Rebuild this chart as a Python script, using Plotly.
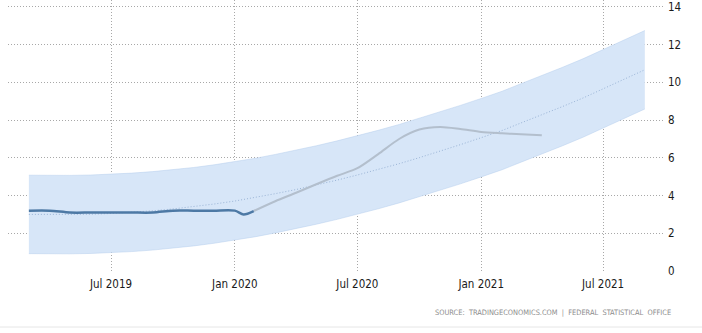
import plotly.graph_objects as go
import pandas as pd

# ---- data ----
actual_dates = ["2019-03-01", "2019-04-01", "2019-05-01", "2019-06-01", "2019-07-01",
                "2019-08-01", "2019-09-01", "2019-10-01", "2019-11-01", "2019-12-01",
                "2020-01-01", "2020-01-14", "2020-01-29"]
actual_values = [3.2, 3.2, 3.1, 3.1, 3.1, 3.1, 3.1, 3.2, 3.2, 3.2, 3.2, 3.0, 3.18]

forecast_dates = ["2020-01-29", "2020-03-01", "2020-04-01", "2020-05-01", "2020-06-01",
                  "2020-07-01", "2020-08-01", "2020-09-01", "2020-10-01", "2020-11-01",
                  "2020-12-01", "2021-01-01", "2021-02-01", "2021-03-01", "2021-04-01"]
forecast_values = [3.18, 3.7, 4.15, 4.6, 5.05, 5.45, 6.2, 7.0, 7.5, 7.64, 7.53, 7.37,
                   7.3, 7.25, 7.2]

trend_dates = list(pd.date_range("2019-03-01", "2021-09-01", freq="MS"))
trend_values = [3.00, 2.99, 2.99, 3.01, 3.05, 3.11, 3.19, 3.29, 3.41, 3.55, 3.71, 3.90,
                4.10, 4.32, 4.56, 4.82, 5.09, 5.38, 5.69, 6.01, 6.35, 6.70, 7.07, 7.45,
                7.85, 8.27, 8.71, 9.17, 9.65, 10.15, 10.67]
band_upper = [5.08, 5.07, 5.07, 5.09, 5.13, 5.19, 5.27, 5.37, 5.49, 5.63, 5.79, 5.98,
              6.18, 6.40, 6.64, 6.90, 7.17, 7.46, 7.77, 8.09, 8.43, 8.78, 9.15, 9.53,
              9.93, 10.35, 10.79, 11.25, 11.73, 12.23, 12.75]
band_lower = [0.92, 0.91, 0.91, 0.93, 0.97, 1.03, 1.11, 1.21, 1.33, 1.47, 1.63, 1.82,
              2.02, 2.24, 2.48, 2.74, 3.01, 3.30, 3.61, 3.93, 4.27, 4.62, 4.99, 5.37,
              5.77, 6.19, 6.63, 7.09, 7.57, 8.07, 8.59]

x_tick_dates = ["2019-07-01", "2020-01-01", "2020-07-01", "2021-01-01", "2021-07-01"]
x_tick_labels = ["Jul 2019", "Jan 2020", "Jul 2020", "Jan 2021", "Jul 2021"]
y_ticks = [0, 2, 4, 6, 8, 10, 12, 14]

FONT = "DejaVu Sans Condensed, DejaVu Sans, sans-serif"
DOT = "1px,2px"

fig = go.Figure()
fig.add_trace(go.Scatter(x=trend_dates, y=band_lower, mode="lines",
                         line=dict(color="rgba(180,205,235,0.8)", width=0.6),
                         hoverinfo="skip", showlegend=False))
fig.add_trace(go.Scatter(x=trend_dates, y=band_upper, mode="lines", fill="tonexty",
                         fillcolor="#d7e6f8",
                         line=dict(color="rgba(180,205,235,0.8)", width=0.6),
                         hoverinfo="skip", showlegend=False))
fig.add_trace(go.Scatter(x=trend_dates, y=trend_values, mode="lines",
                         line=dict(color="#9ab4d6", width=1, dash=DOT),
                         showlegend=False))
fig.add_trace(go.Scatter(x=forecast_dates, y=forecast_values, mode="lines",
                         line=dict(color="#b3bfcd", width=2, shape="spline", smoothing=0.8),
                         showlegend=False))
fig.add_trace(go.Scatter(x=actual_dates, y=actual_values, mode="lines",
                         line=dict(color="#4d79a5", width=2.5, shape="spline", smoothing=0.8),
                         showlegend=False))

L, R, T, B = 8, 39, 0, 62
W, H = 702, 333
pw, ph = W - L - R, H - T - B

fig.update_layout(
    width=W, height=H,
    margin=dict(l=L, r=R, t=T, b=B, pad=0),
    paper_bgcolor="white", plot_bgcolor="white",
    font=dict(family=FONT, size=11, color="#222"),
    xaxis=dict(range=["2019-01-29", "2021-09-28"], tickmode="array",
               tickvals=x_tick_dates, ticktext=x_tick_labels,
               showgrid=True, gridcolor="#a8a8a8", griddash=DOT, gridwidth=1,
               zeroline=False, showline=False, ticks="", ticklabelstandoff=4,
               tickfont=dict(family=FONT, size=11.5, color="#1a1a1a")),
    yaxis=dict(range=[0, 14.37], side="right", tickmode="array", tickvals=y_ticks,
               showgrid=True, gridcolor="#a8a8a8", griddash=DOT, gridwidth=1,
               zeroline=False, showline=False, ticks="", ticklabelstandoff=4,
               tickfont=dict(family=FONT, size=11.5, color="#1a1a1a")),
)

fig.add_annotation(text="SOURCE:  TRADINGECONOMICS.COM  |  FEDERAL  STATISTICAL  OFFICE",
                   xref="paper", yref="paper", x=(673 - L) / pw, y=(ph - (312 - T)) / ph,
                   xanchor="right", yanchor="middle", showarrow=False,
                   font=dict(family=FONT, size=7.4, color="#8c8c8c"))
fig.add_shape(type="line", xref="paper", yref="paper",
              x0=-L / pw, x1=(W - L) / pw, y0=(ph - (327 - T)) / ph, y1=(ph - (327 - T)) / ph,
              line=dict(color="#e6e6e6", width=1))

fig.write_html("out.html")
